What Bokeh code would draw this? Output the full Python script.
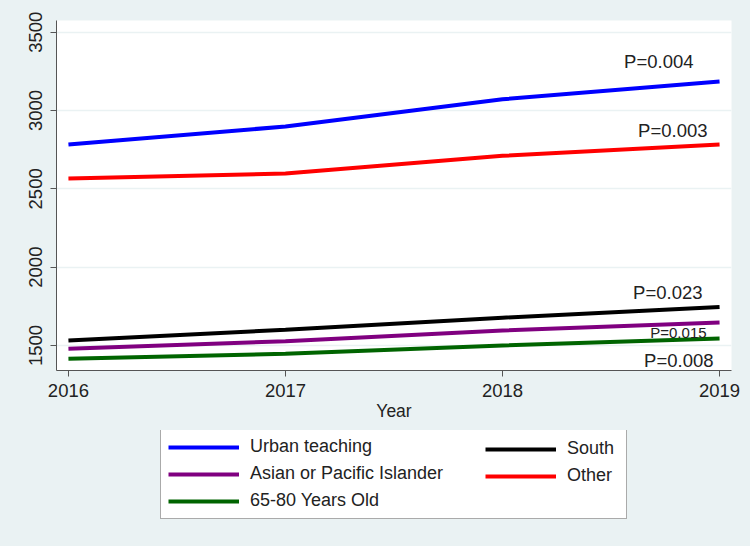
from bokeh.plotting import figure
from bokeh.models import Legend, LegendItem, Label, Range1d, FixedTicker
from bokeh.layouts import column
from bokeh.embed import file_html
from bokeh.resources import INLINE

years = [2016, 2017, 2018, 2019]
urban_teaching = [2783, 2898, 3072, 3185]
other = [2566, 2598, 2711, 2783]
south = [1532, 1600, 1677, 1745]
asian_pi = [1479, 1527, 1596, 1647]
age_65_80 = [1415, 1447, 1500, 1545]

series_names = ["Urban teaching", "South", "Asian or Pacific Islander", "Other", "65-80 Years Old"]
series_values = [urban_teaching, south, asian_pi, other, age_65_80]
series_colors = ["#0000ff", "#000000", "#800080", "#ff0000", "#006400"]
p_values = ["P=0.004", "P=0.023", "P=0.015", "P=0.003", "P=0.008"]
y_ticks = [1500, 2000, 2500, 3000, 3500]

BG = "#eaf2f3"
FONT = "Liberation Sans"
TXT = "#222222"

p = figure(width=750, height=430, output_backend="svg", toolbar_location=None,
           x_range=Range1d(2015.945, 2019.055), y_range=Range1d(1340, 3575),
           min_border_left=56, min_border_right=19, min_border_top=20, min_border_bottom=60)
p.border_fill_color = BG
p.background_fill_color = "white"
p.outline_line_color = None

p.xgrid.visible = False
p.ygrid.grid_line_color = BG
p.ygrid.grid_line_width = 1.5
p.ygrid.ticker = FixedTicker(ticks=y_ticks)

p.xaxis.ticker = FixedTicker(ticks=years)
p.yaxis.ticker = FixedTicker(ticks=y_ticks)
for ax in (p.xaxis[0], p.yaxis[0]):
    ax.axis_line_color = "#555555"
    ax.major_tick_line_color = "#555555"
    ax.major_tick_out = 6
    ax.major_tick_in = 0
    ax.minor_tick_line_color = None
    ax.major_label_text_font = FONT
    ax.major_label_text_font_size = "18.5px"
    ax.major_label_text_color = TXT
p.yaxis.major_label_orientation = "vertical"
p.yaxis.major_label_standoff = 8
p.xaxis.major_label_standoff = 7
p.xaxis.axis_label = "Year"
p.xaxis.axis_label_text_font = FONT
p.xaxis.axis_label_text_font_size = "17.5px"
p.xaxis.axis_label_text_font_style = "normal"
p.xaxis.axis_label_text_color = TXT
p.xaxis.axis_label_standoff = 1

label_offsets = [(-26, 20), (-17, 15), (-13, -10), (-12, 14), (-6, -22)]
label_sizes = ["18.5px", "18.5px", "15px", "18.5px", "18.5px"]
for vals, col, pv, (dx, dy), fs in zip(series_values, series_colors, p_values, label_offsets, label_sizes):
    p.line(years, vals, line_color=col, line_width=4)
    p.add_layout(Label(x=years[-1], y=vals[-1], text=pv, x_offset=dx, y_offset=dy,
                       text_align="right", text_baseline="middle",
                       text_font=FONT, text_font_size=fs, text_color=TXT))

# legend panel (same side borders as the main plot so the frames stay aligned)
lg = figure(width=750, height=116, output_backend="svg", toolbar_location=None,
            x_range=Range1d(0, 1), y_range=Range1d(0, 1),
            x_axis_location=None, y_axis_location=None,
            min_border_left=56, min_border_right=19, min_border_top=0, min_border_bottom=0)
lg.border_fill_color = BG
lg.background_fill_color = BG
lg.outline_line_color = None
lg.xgrid.visible = False
lg.ygrid.visible = False

items = []
for name, vals, col in zip(series_names, series_values, series_colors):
    r = lg.line(years, vals, line_color=col, line_width=4)  # outside the (0,1) ranges: only the legend shows
    items.append(LegendItem(label=name, renderers=[r]))

common = dict(margin=0, spacing=6, glyph_width=71, glyph_height=20, label_height=20,
              label_standoff=11, label_text_font=FONT, label_text_font_size="18px",
              label_text_color=TXT)

left_legend = Legend(items=[items[0], items[2], items[4]], location=(104, 27), padding=7,
                     label_width=369, border_line_color="#555555", border_line_width=1,
                     background_fill_color="white", background_fill_alpha=1, **common)
right_legend = Legend(items=[items[1], items[3]], location=(429, 60), padding=0,
                      border_line_color=None, background_fill_alpha=0, **common)
lg.add_layout(left_legend, "center")
lg.add_layout(right_legend, "center")

layout = column(p, lg, spacing=0, styles={"background-color": BG})
open("out.html", "w").write(file_html(layout, INLINE))
